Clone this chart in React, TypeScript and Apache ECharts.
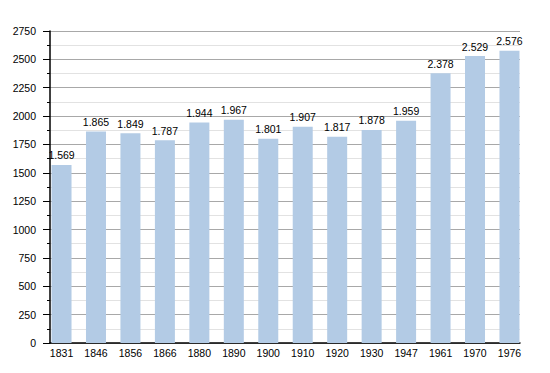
import React, { useEffect, useRef } from "react";
import * as echarts from "echarts";

const years = ["1831", "1846", "1856", "1866", "1880", "1890", "1900", "1910", "1920", "1930", "1947", "1961", "1970", "1976"];
const population = [1569, 1865, 1849, 1787, 1944, 1967, 1801, 1907, 1817, 1878, 1959, 2378, 2529, 2576];
const yMax = 2750;
const yStep = 250;

const FONT = "Liberation Sans, Arial, sans-serif";
const FS = 10.5;

export default function App() {
  const ref = useRef<HTMLDivElement>(null);
  useEffect(() => {
    if (!ref.current) return;
    const chart = echarts.init(ref.current, null, { renderer: "svg" });
    chart.setOption({
      animation: false,
      backgroundColor: "#ffffff",
      grid: [
        { left: 50, right: 30, top: 31, bottom: 30 },
        { left: 44.3, right: 23.3, top: 31, bottom: 30 },
      ],
      xAxis: [
        {
          type: "category",
          gridIndex: 0,
          data: years,
          axisLine: { show: true, lineStyle: { color: "#000", width: 1.5 } },
          axisTick: { show: false },
          axisLabel: { show: false },
          splitLine: { show: false },
        },
        {
          type: "category",
          gridIndex: 1,
          data: years,
          axisLine: { show: false },
          axisTick: { show: false },
          axisLabel: { show: true, color: "#000", fontSize: FS, fontFamily: FONT, margin: 4 },
          splitLine: { show: false },
        },
      ],
      yAxis: [
        {
          type: "value",
          gridIndex: 0,
          min: 0,
          max: yMax,
          interval: yStep,
          axisLine: { show: true, lineStyle: { color: "#000", width: 1.5 } },
          axisTick: { show: true, length: 7, lineStyle: { color: "#000" } },
          minorTick: { show: true, splitNumber: 2, length: 3, lineStyle: { color: "#000" } },
          axisLabel: {
            color: "#000",
            fontSize: FS,
            fontFamily: FONT,
            margin: 14,
            formatter: (v: number) => String(v),
          },
          splitLine: { show: true, lineStyle: { color: "#a8a8a8", width: 1 } },
          minorSplitLine: { show: true, lineStyle: { color: "#e2e2e2", width: 1 } },
        },
        {
          type: "value",
          gridIndex: 1,
          min: 0,
          max: yMax,
          interval: yStep,
          show: false,
          splitLine: { show: false },
        },
      ],
      series: [
        {
          type: "bar",
          xAxisIndex: 1,
          yAxisIndex: 1,
          data: population,
          barWidth: 20,
          itemStyle: { color: "#b3cbe5" },
          label: {
            show: true,
            position: "top",
            distance: 4,
            color: "#000",
            fontSize: FS,
            fontFamily: FONT,
            formatter: (p: any) => {
              const v = String(p.value);
              return v.length > 3 ? v.slice(0, v.length - 3) + "." + v.slice(v.length - 3) : v;
            },
          },
        },
      ],
    });
    return () => chart.dispose();
  }, []);
  return <div ref={ref} style={{ width: 550, height: 373, position: "absolute", left: 0, top: 0 }} />;
}
